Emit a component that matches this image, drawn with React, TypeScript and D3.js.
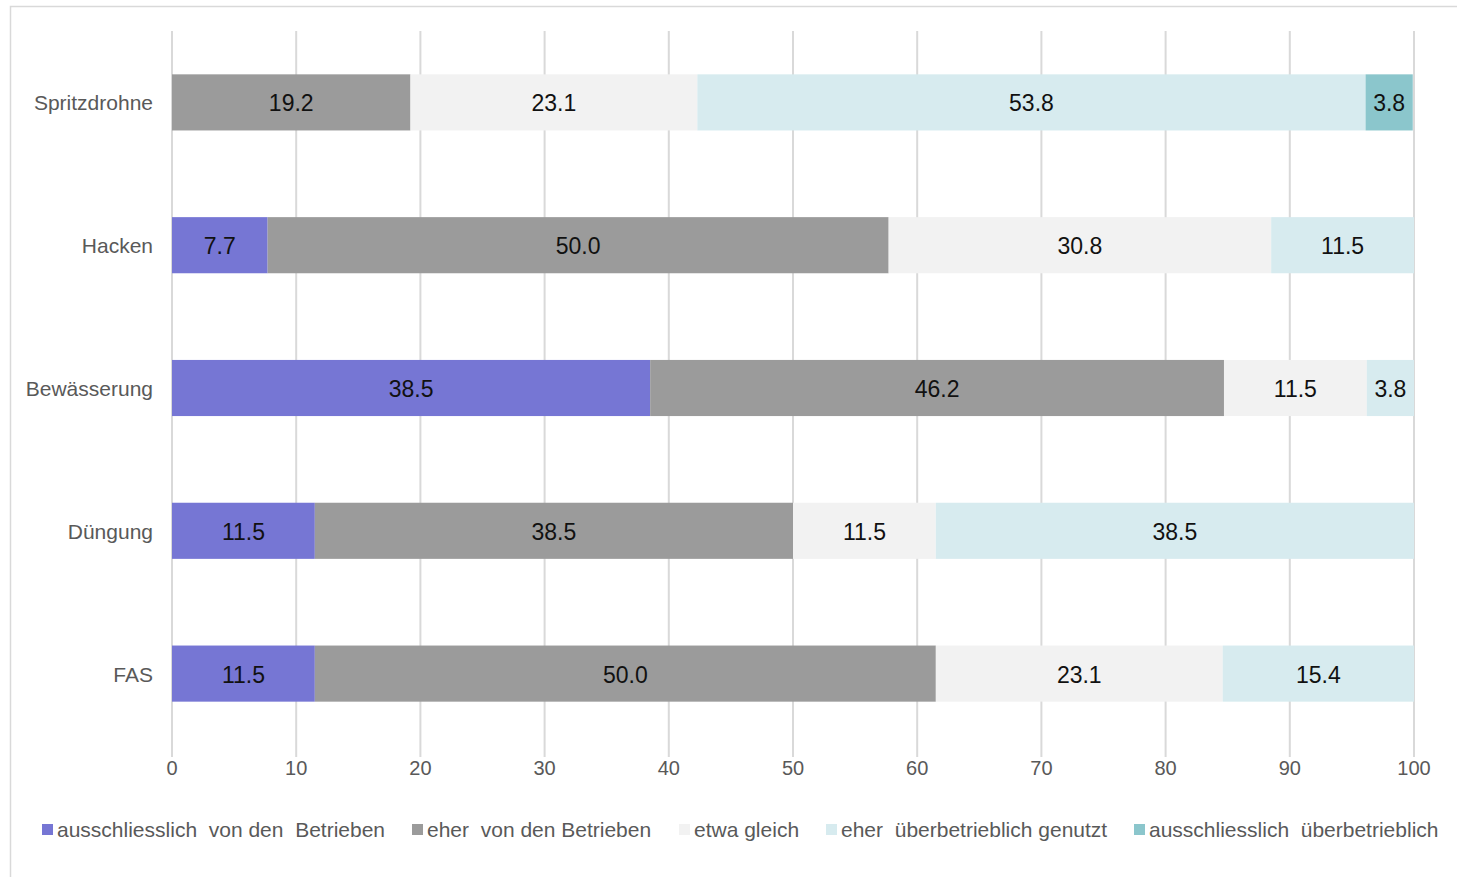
import React from "react";
import * as d3 from "d3";

const categories = ["Spritzdrohne", "Hacken", "Bewässerung", "Düngung", "FAS"];
const seriesNames = [
  "ausschliesslich  von den  Betrieben",
  "eher  von den Betrieben",
  "etwa gleich",
  "eher  überbetrieblich genutzt",
  "ausschliesslich  überbetrieblich",
];
const exclusivFarm = [0, 7.7, 38.5, 11.5, 11.5];
const ratherFarm = [19.2, 50.0, 46.2, 38.5, 50.0];
const equal = [23.1, 30.8, 11.5, 11.5, 23.1];
const ratherShared = [53.8, 11.5, 3.8, 38.5, 15.4];
const exclusivShared = [3.8, 0, 0, 0, 0];
const xTicks = [0, 10, 20, 30, 40, 50, 60, 70, 80, 90, 100];
const colors = ["#7676d4", "#9b9b9b", "#f2f2f2", "#d7ebef", "#8bc6cc"];
const legendX = [42, 412, 679, 826, 1134];

export default function App() {
  const W = 1457, H = 877;
  const left = 172, right = 1414, top = 31, bottom = 745;
  const x = d3.scaleLinear().domain([0, 100]).range([left, right]);
  const y = d3.scaleBand().domain(categories).range([top, bottom]).paddingInner(0.607).paddingOuter(0.3035);
  const series = [exclusivFarm, ratherFarm, equal, ratherShared, exclusivShared];
  const rows = categories.map((c, i) => {
    const o: any = { cat: c };
    series.forEach((s, k) => (o["s" + k] = s[i]));
    return o;
  });
  const stack = d3.stack().keys(series.map((_, k) => "s" + k))(rows as any);
  const font = "Liberation Sans, Arial, sans-serif";
  return (
    <svg width={W} height={H} style={{ position: "absolute", left: 0, top: 0, background: "#fff" }}>
      <rect x={10.5} y={6.5} width={1460} height={880} fill="#fff" stroke="#d9d9d9" strokeWidth={1.5} />
      {xTicks.map((t) => (
        <g key={t}>
          <line x1={x(t)} x2={x(t)} y1={top} y2={757} stroke="#d9d9d9" strokeWidth={2} />
          <text x={x(t)} y={775} textAnchor="middle" fontFamily={font} fontSize={20} fill="#595959">{t}</text>
        </g>
      ))}
      {stack.map((layer, k) =>
        layer.map((d, i) => {
          const v = d[1] - d[0];
          if (v <= 0) return null;
          const cat = categories[i];
          const y0 = y(cat)!;
          return (
            <g key={k + "-" + i}>
              <rect x={x(d[0])} y={y0} width={x(d[1]) - x(d[0])} height={y.bandwidth()} fill={colors[k]} />
              <text x={(x(d[0]) + x(d[1])) / 2} y={y0 + y.bandwidth() / 2 + 9} textAnchor="middle" fontFamily={font} fontSize={23} fill="#111">
                {v.toFixed(1)}
              </text>
            </g>
          );
        })
      )}
      {categories.map((c) => (
        <text key={c} x={153} y={y(c)! + y.bandwidth() / 2 + 8} textAnchor="end" fontFamily={font} fontSize={21} fill="#595959">{c}</text>
      ))}
      {seriesNames.map((n, k) => (
        <g key={n}>
          <rect x={legendX[k]} y={824} width={11} height={11} fill={colors[k]} />
          <text x={legendX[k] + 15} y={837} fontFamily={font} fontSize={21} fill="#595959" style={{ whiteSpace: "pre" }}>{n}</text>
        </g>
      ))}
    </svg>
  );
}
